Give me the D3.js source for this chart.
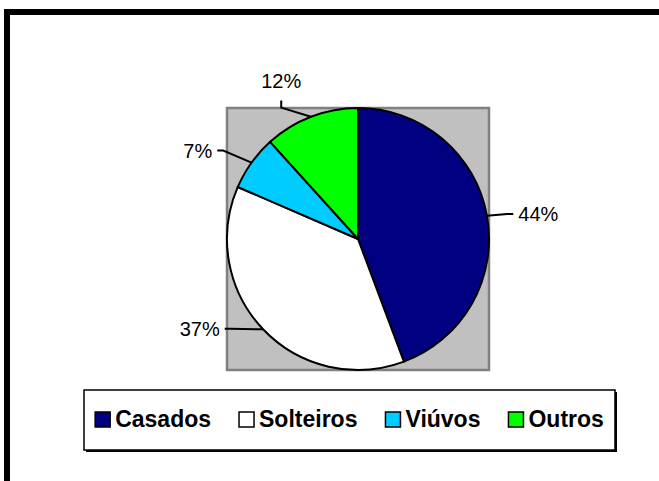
<!DOCTYPE html>
<html>
<head>
<meta charset="utf-8">
<script src="https://cdn.jsdelivr.net/npm/d3@7"></script>
<style>
  body { margin: 0; background: #fff; }
  svg { display: block; font-family: Arial, "Liberation Sans", sans-serif; }
</style>
</head>
<body>
<svg width="659" height="481"></svg>
<script>
// Estado civil - shares.
var categories = ["Casados", "Solteiros", "Viúvos", "Outros"];
var values = [44.3, 37.2, 6.8, 11.7];
var colors = ["#000080", "#ffffff", "#00ccff", "#00ff00"];

var svg = d3.select("svg"),
    width = +svg.attr("width"),
    height = +svg.attr("height");

// Outer thick frame (runs off the right and bottom edges).
svg.append("rect")
    .attr("x", 7).attr("y", 12)
    .attr("width", width + 20).attr("height", height + 20)
    .attr("fill", "none")
    .attr("stroke", "#000")
    .attr("stroke-width", 6);

var cx = 358, cy = 239, r = 131;

// Gray plot area behind the pie.
svg.append("rect")
    .attr("x", cx - r).attr("y", cy - r)
    .attr("width", 2 * r).attr("height", 2 * r)
    .attr("fill", "#c0c0c0")
    .attr("stroke", "#808080")
    .attr("stroke-width", 2.5);

var total = d3.sum(values);
var data = categories.map(function(c, i) { return { name: c, value: values[i], color: colors[i] }; });

var pie = d3.pie().sort(null).value(function(d) { return d.value; });
var arcs = pie(data);

var arc = d3.arc().innerRadius(0).outerRadius(r);
var edgeArc = d3.arc().innerRadius(r).outerRadius(r);

var g = svg.append("g").attr("transform", "translate(" + cx + "," + cy + ")");

g.selectAll("path.slice")
  .data(arcs)
  .enter().append("path")
    .attr("class", "slice")
    .attr("d", arc)
    .attr("fill", function(d) { return d.data.color; })
    .attr("stroke", "#000")
    .attr("stroke-width", 2)
    .attr("stroke-linejoin", "round");

// Data labels: Excel had them dragged a bit off the mid angle.
var labelShift = [2.4, 14, -6.75, -4.8];   // degrees
var labelGap = [51, 51, 52, 45];           // px beyond the rim

arcs.forEach(function(d, i) {
  var mid = (d.startAngle + d.endAngle) / 2;
  var a = mid + labelShift[i] * Math.PI / 180;
  var lr = r + labelGap[i];
  var lx = lr * Math.sin(a),
      ly = -lr * Math.cos(a);
  var edge = edgeArc.centroid(d);

  var txt = g.append("text")
      .attr("x", lx)
      .attr("y", ly + 7)
      .attr("text-anchor", "middle")
      .attr("font-size", "20px")
      .attr("fill", "#000")
      .text(Math.round(d.value / total * 100) + "%");
  var half = txt.node().getComputedTextLength() / 2;

  var pts;
  if (Math.abs(Math.sin(a)) > 0.5) {
    var side = lx > 0 ? -1 : 1;
    var sx = lx + side * (half + 5);
    pts = [[sx, ly], [sx + side * 6, ly], edge];
  } else {
    pts = [[lx, ly + 20], [lx, ly + 27], edge];
  }
  g.append("path")
      .attr("d", d3.line()(pts))
      .attr("fill", "none")
      .attr("stroke", "#000")
      .attr("stroke-width", 2);
});

// Legend box with a small shadow.
var lg = { x: 84, y: 390, w: 531, h: 60 };
svg.append("rect")
    .attr("x", lg.x + 2).attr("y", lg.y + 2)
    .attr("width", lg.w).attr("height", lg.h)
    .attr("fill", "#000");
svg.append("rect")
    .attr("x", lg.x).attr("y", lg.y)
    .attr("width", lg.w).attr("height", lg.h)
    .attr("fill", "#fff")
    .attr("stroke", "#000")
    .attr("stroke-width", 1.5);

var legend = svg.append("g");
var xpos = 0;
data.forEach(function(d, i) {
  var item = legend.append("g").attr("transform", "translate(" + xpos + ",0)");
  item.append("rect")
      .attr("x", 0).attr("y", -15)
      .attr("width", 15).attr("height", 15)
      .attr("fill", d.color)
      .attr("stroke", "#000")
      .attr("stroke-width", 1.5);
  var t = item.append("text")
      .attr("x", 20).attr("y", 0)
      .attr("font-size", "23px")
      .attr("font-weight", "bold")
      .text(d.name);
  xpos += 20 + t.node().getComputedTextLength() + 28;
});
var lw = legend.node().getBBox().width;
legend.attr("transform", "translate(" + (lg.x + (lg.w - lw) / 2) + "," + (lg.y + 37) + ")");
</script>
</body>
</html>
